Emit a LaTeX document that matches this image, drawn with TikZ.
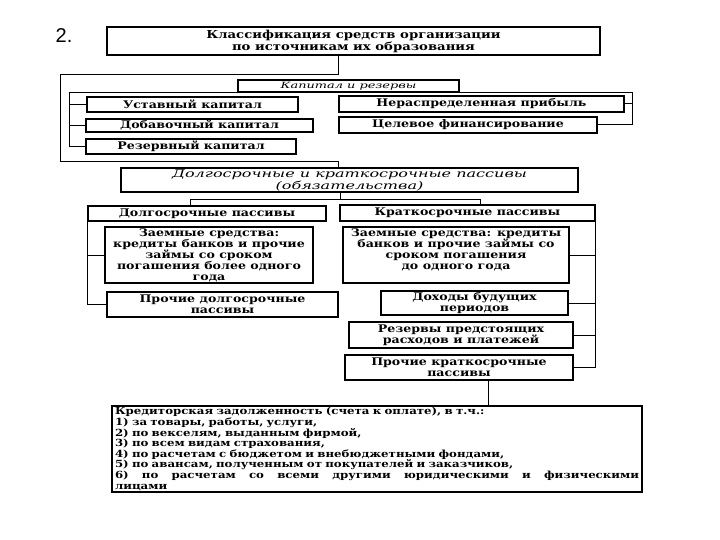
\documentclass[tikz,border=0pt]{standalone}
\usepackage{fontspec}
\setmainfont{DejaVu Serif}[FakeStretch=1.2]
\newfontfamily\wideit{DejaVu Serif}[FakeStretch=1.5]
\newfontfamily\numfont{Liberation Sans}
\usepackage{tikz}
\usetikzlibrary{positioning,calc}

\begin{document}
\begin{tikzpicture}[x=1pt, y=-1pt,
  box/.style={draw, line width=1.3pt, inner sep=0pt, align=center, font=\bfseries\fontsize{10.5}{11}\selectfont},
  itbox/.style={box, font=\wideit\itshape\fontsize{10.7}{12}\selectfont},
  link/.style={line width=1pt}]
\useasboundingbox (0,0) rectangle (720,540);
\node[font=\numfont\fontsize{20}{22}\selectfont] (num) at (64,36) {2.};
\node[box, minimum width=493, minimum height=28, font=\bfseries\fontsize{11}{12}\selectfont] (title) at (353.5,41) {Классификация средств организации\\по источникам их образования};
\node[itbox, minimum width=221, minimum height=12, font=\wideit\itshape\fontsize{8.6}{10}\selectfont] (kr) at (348.5,86) {Капитал и резервы};
\node[box, minimum width=211, minimum height=15] (ust) at (192.5,104.5) {Уставный капитал};
\node[box, minimum width=227, minimum height=13] (dob) at (199.5,125.5) {Добавочный капитал};
\node[box, minimum width=210, minimum height=15] (rez) at (191,146.5) {Резервный капитал};
\node[box, minimum width=285, minimum height=16] (ner) at (481.5,104) {Нераспределенная прибыль};
\node[box, minimum width=258, minimum height=16] (cel) at (468,125) {Целевое финансирование};
\node[itbox, minimum width=457, minimum height=24] (dk) at (349.5,180) {Долгосрочные и краткосрочные пассивы\\(обязательства)};
\node[box, minimum width=238, minimum height=15] (dp) at (207,213.5) {Долгосрочные пассивы};
\node[box, minimum width=255, minimum height=16] (kp) at (467.5,213) {Краткосрочные пассивы};
\node[box, minimum width=208, minimum height=56] (zl) at (209,255) {Заемные средства:\\кредиты банков и прочие\\займы со сроком\\погашения более одного\\года};
\node[box, minimum width=231, minimum height=25] (pdl) at (222.5,304.5) {Прочие долгосрочные\\пассивы};
\node[box, minimum width=226, minimum height=56] (zk) at (456,255) {Заемные средства: кредиты\\банков и прочие займы со\\сроком погашения\\до одного года\\\mbox{}};
\node[box, minimum width=187, minimum height=24] (dbp) at (474.5,303) {Доходы будущих\\периодов};
\node[box, minimum width=224, minimum height=26] (rpr) at (461,335) {Резервы предстоящих\\расходов и платежей};
\node[box, minimum width=228, minimum height=25] (pkp) at (459,367.5) {Прочие краткосрочные\\пассивы};
\node[box, minimum width=530, minimum height=86, text width=524, align=left, font=\bfseries\fontsize{9.8}{10.6}\selectfont] (kz) at (377,449) {Кредиторская задолженность (счета к оплате), в т.ч.:\\
1) за товары, работы, услуги,\\
2) по векселям, выданным фирмой,\\
3) по всем видам страхования,\\
4) по расчетам с бюджетом и внебюджетными фондами,\\
5) по авансам, полученным от покупателей и заказчиков,\\
\makebox[524pt][l]{6)\hfill по\hfill расчетам\hfill со\hfill всеми\hfill другими\hfill юридическими\hfill и\hfill физическими}\\
лицами};
\coordinate (tx) at (338,0);
\coordinate (ktl) at (60,75);
\coordinate (kbl) at (60,162);
\coordinate (kl) at (69,93);
\coordinate (krr) at (632,93);
\coordinate (sp) at (340,200);
\coordinate (spl) at (190,200);
\coordinate (spr) at (480,200);
\coordinate (kx) at (488,0);
\draw[link] (title.south -| tx) |- (ktl) -- (kbl) -| (dk.north -| tx);
\draw[link] (kl) -- (krr) |- (cel.east);
\draw[link] (ner.east) -- (ner.east -| krr);
\draw[link] (kl) |- (rez.west);
\foreach \n in {ust,dob} \draw[link] (\n.west) -- (\n.west -| kl);
\draw[link] (dk.south -| sp) -- (sp);
\draw[link] (spl |- dp.north) |- (spr) -- (spr |- kp.north);
\draw[link] (dp.south west) |- (pdl.west);
\draw[link] (zl.west) -- (zl.west -| dp.south west);
\draw[link] (kp.south east) |- (pkp.east);
\foreach \n in {zk,dbp,rpr} \draw[link] (\n.east) -- (\n.east -| kp.south east);
\draw[link] (pkp.south -| kx) -- (kz.north -| kx);
\end{tikzpicture}
\end{document}
